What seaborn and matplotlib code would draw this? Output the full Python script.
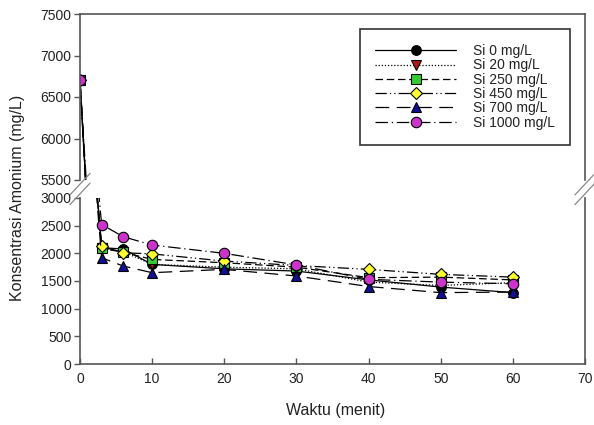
import matplotlib
matplotlib.use("Agg")
import matplotlib.pyplot as plt
import numpy as np
import pandas as pd
import seaborn as sns

# ---- data ----
time = [0, 3, 6, 10, 20, 30, 40, 50, 60]
si_0 = [6700, 2100, 2080, 1800, 1720, 1680, 1520, 1390, 1290]
si_20 = [6700, 2100, 2030, 1800, 1750, 1720, 1480, 1420, 1470]
si_250 = [6700, 2090, 2020, 1890, 1830, 1750, 1560, 1570, 1520]
si_450 = [6700, 2130, 2010, 1990, 1860, 1780, 1710, 1620, 1570]
si_700 = [6700, 1920, 1770, 1650, 1710, 1590, 1400, 1290, 1300]
si_1000 = [6700, 2520, 2300, 2150, 2000, 1790, 1530, 1480, 1450]
series_labels = ["Si 0 mg/L", "Si 20 mg/L", "Si 250 mg/L", "Si 450 mg/L",
                 "Si 700 mg/L", "Si 1000 mg/L"]
series_values = [si_0, si_20, si_250, si_450, si_700, si_1000]

upper_ticks = [5500, 6000, 6500, 7000, 7500]
lower_ticks = [0, 500, 1000, 1500, 2000, 2500, 3000]
x_ticks = [0, 10, 20, 30, 40, 50, 60, 70]

# ---- styles ----
face_colors = ["#000000", "#b01818", "#33cc33", "#ffff33", "#101090", "#cc33cc"]
markers = ["o", "v", "s", "D", "^", "o"]
marker_sizes = [7, 7, 7, 6, 7, 7.5]
line_styles = [
    "-",
    (0, (1, 1.5)),
    (0, (6, 3)),
    (0, (9, 2.5, 1, 2.5, 1, 2.5)),
    (0, (11, 6)),
    (0, (10, 3, 1, 3)),
]

sns.set_theme(style="ticks")
plt.rcParams["font.family"] = ["Liberation Sans", "DejaVu Sans"]

fig = plt.figure(figsize=(5.94, 4.25), dpi=100)
L, W = 80 / 594, 505 / 594
ax_top = fig.add_axes([L, 1 - 180 / 425, W, 166 / 425])
ax_bot = fig.add_axes([L, 1 - 364 / 425, W, 166 / 425])

for ax, lab in ((ax_top, True), (ax_bot, False)):
    for name, vals, fc, mk, ms, ls in zip(series_labels, series_values, face_colors,
                                          markers, marker_sizes, line_styles):
        df = pd.DataFrame({"t": time, "v": vals})
        kw = dict(label=name) if lab else {}
        sns.lineplot(data=df, x="t", y="v", ax=ax, sort=False, estimator=None,
                     color="black", linewidth=0.9, linestyle=ls,
                     marker=mk, markersize=ms, markerfacecolor=fc,
                     markeredgecolor="black", markeredgewidth=0.8,
                     legend=lab, **kw)

spine_col = "#555555"
for ax in (ax_top, ax_bot):
    ax.set_xlim(0, 70)
    ax.set_xlabel("")
    ax.set_ylabel("")
    ax.set_facecolor("white")
    for s in ax.spines.values():
        s.set_color(spine_col)
        s.set_linewidth(1.2)
    ax.tick_params(axis="y", direction="out", length=4, width=1, color=spine_col,
                   labelsize=10, labelcolor="#222222", pad=2)

ax_top.set_ylim(5500, 7500)
ax_top.set_yticks(upper_ticks)
ax_top.spines["bottom"].set_visible(False)
ax_top.tick_params(axis="x", bottom=False, labelbottom=False)

ax_bot.set_ylim(0, 3000)
ax_bot.set_yticks(lower_ticks)
ax_bot.set_xticks(x_ticks)
ax_bot.spines["top"].set_visible(False)
ax_bot.tick_params(axis="x", direction="in", length=4, width=1, color=spine_col,
                   labelsize=10, labelcolor="#222222", pad=6)

# break marks
d = dict(color="#888888", linewidth=0.9, clip_on=False)
for xf in (0, 1):
    ax_top.plot([xf - 0.02, xf + 0.02], [-0.09, 0.04], transform=ax_top.transAxes, **d)
    ax_bot.plot([xf - 0.02, xf + 0.02], [0.96, 1.09], transform=ax_bot.transAxes, **d)

handles, labels = ax_top.get_legend_handles_labels()
leg = ax_top.legend(handles, labels, loc="upper right", bbox_to_anchor=(0.97, 0.91),
                    frameon=True, fancybox=False, edgecolor="#333333", framealpha=1,
                    fontsize=10, handlelength=5.8, handletextpad=1.2,
                    labelspacing=0.02, borderpad=1.1, borderaxespad=0, numpoints=1)
leg.get_frame().set_linewidth(1.2)
for t in leg.get_texts():
    t.set_color("#222222")

fig.text(0.03, 0.535, "Konsentrasi Amonium (mg/L)", rotation=90, ha="center",
         va="center", fontsize=11.5, color="#222222")
fig.text(0.565, 0.035, "Waktu (menit)", ha="center", va="center", fontsize=11.5,
         color="#222222")

fig.savefig("out.png", dpi=100, facecolor="white")
